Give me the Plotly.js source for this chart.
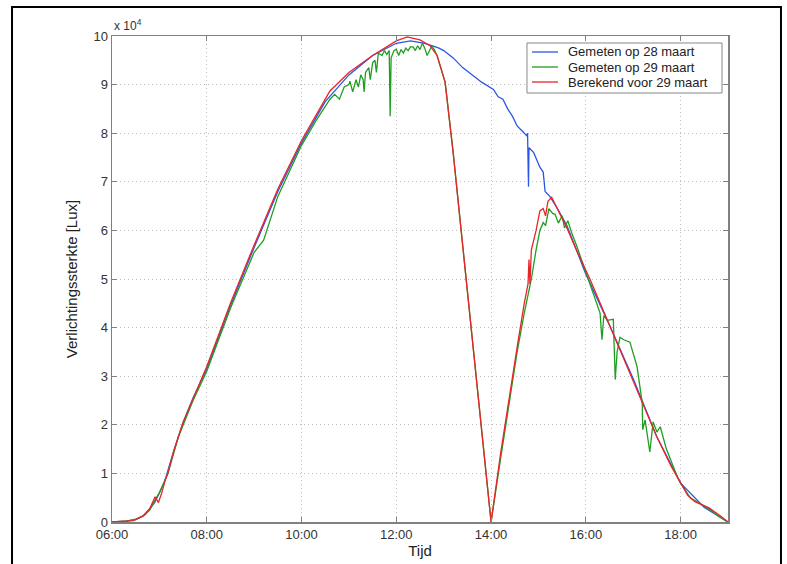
<!DOCTYPE html>
<html>
<head>
<meta charset="utf-8">
<script src="https://cdn.plot.ly/plotly-3.0.1.min.js"></script>
<style>html,body{margin:0;padding:0;background:#fff;}#chart{width:787px;height:564px;}</style>
</head>
<body>
<div id="chart"></div>
<script>
// time in hours, values in 10^4 lux
const tBlue = [6.0,6.3,6.5,6.7,6.9,7.1,7.3,7.5,7.71,8.0,8.5,9.0,9.5,10.0,10.5,11.0,11.5,12.0,12.3,12.6,12.78,12.9,13.0,13.2,13.4,13.6,13.8,14.05,14.15,14.25,14.35,14.45,14.55,14.65,14.75,14.77,14.79,14.8,14.9,15.03,15.1,15.14,15.24,15.4,15.6,16.0,16.5,17.0,17.5,18.0,18.5,19.0];
const vBlue = [0,0.02,0.05,0.15,0.4,0.8,1.45,2.05,2.55,3.15,4.45,5.65,6.8,7.8,8.65,9.2,9.6,9.85,9.9,9.85,9.79,9.75,9.7,9.55,9.35,9.2,9.05,8.9,8.75,8.7,8.5,8.35,8.15,8.05,7.95,8.0,6.9,7.7,7.6,7.3,7.2,6.8,6.7,6.45,6.1,5.1,4.05,2.95,1.75,0.8,0.3,0];

const tGreen = [6.0,6.3,6.5,6.65,6.8,6.87,7.0,7.18,7.4,7.71,8.0,8.5,9.0,9.2,9.5,10.0,10.3,10.6,10.7,10.8,10.9,11.0,11.02,11.08,11.15,11.2,11.25,11.3,11.32,11.35,11.42,11.45,11.5,11.55,11.58,11.62,11.7,11.75,11.8,11.85,11.87,11.89,11.95,12.0,12.05,12.1,12.15,12.2,12.25,12.3,12.36,12.4,12.45,12.5,12.55,12.6,12.65,12.7,12.75,12.8,12.86,13.03,13.2,13.4,13.6,13.8,14.0,14.2,14.4,14.55,14.7,14.85,14.95,15.03,15.1,15.15,15.22,15.3,15.35,15.42,15.5,15.55,15.62,15.7,15.8,16.0,16.2,16.3,16.34,16.38,16.45,16.58,16.62,16.66,16.72,16.8,16.93,17.08,17.19,17.2,17.25,17.35,17.42,17.5,17.57,17.7,17.93,18.0,18.2,18.4,18.6,18.8,19.0];
const vGreen = [0,0.02,0.06,0.12,0.25,0.39,0.6,1.0,1.75,2.5,3.1,4.4,5.55,5.8,6.7,7.75,8.25,8.7,8.8,8.7,8.95,9.0,9.07,8.85,9.1,8.95,9.2,9.1,8.85,9.25,9.35,9.1,9.45,9.5,9.25,9.65,9.6,9.7,9.62,9.7,8.35,9.55,9.7,9.73,9.6,9.72,9.65,9.75,9.7,9.78,9.77,9.7,9.8,9.72,9.85,9.75,9.6,9.7,9.8,9.72,9.6,9.05,7.6,5.7,3.8,1.9,0,1.3,2.6,3.5,4.3,5.0,5.6,6.0,6.16,6.1,6.45,6.35,6.33,6.15,6.3,6.05,6.2,5.95,5.7,5.15,4.6,4.3,3.75,4.25,4.15,4.17,2.93,3.5,3.8,3.75,3.7,3.2,2.45,1.9,2.1,1.44,2.06,1.85,1.96,1.5,0.93,0.8,0.5,0.38,0.27,0.12,0];

const tRed = [6.0,6.25,6.45,6.65,6.8,6.91,6.98,7.05,7.12,7.18,7.3,7.5,7.71,8.0,8.5,9.0,9.5,10.0,10.5,10.6,11.0,11.3,11.5,12.0,12.23,12.5,12.71,12.86,13.03,13.2,13.4,13.6,13.8,14.0,14.2,14.4,14.55,14.7,14.78,14.8,14.82,14.85,14.95,15.03,15.1,15.15,15.2,15.28,15.4,15.6,15.8,16.09,16.5,17.0,17.19,17.5,17.8,18.0,18.15,18.3,18.6,18.85,19.0];
const vRed = [0,0.01,0.03,0.12,0.28,0.52,0.4,0.6,0.85,1.0,1.45,2.05,2.55,3.2,4.5,5.7,6.85,7.85,8.7,8.87,9.25,9.46,9.6,9.9,9.98,9.92,9.8,9.6,9.05,7.6,5.7,3.8,1.9,0,1.4,2.7,3.6,4.5,4.9,5.4,4.9,5.6,6.0,6.4,6.45,6.3,6.6,6.68,6.45,6.05,5.6,4.99,4.05,2.9,2.45,1.75,1.15,0.8,0.55,0.42,0.29,0.12,0];

const names = ["Gemeten op 28 maart","Gemeten op 29 maart","Berekend voor 29 maart"];
const colors = ["#2a56e8","#1f9e1f","#e8242a"];
const tickVals = [6,8,10,12,14,16,18];
const tickText = ["06:00","08:00","10:00","12:00","14:00","16:00","18:00"];
const yTicks = [0,1,2,3,4,5,6,7,8,9,10];

const traces = [
  {x:tBlue, y:vBlue, name:names[0], type:"scatter", mode:"lines", line:{color:colors[0], width:1.3}},
  {x:tGreen, y:vGreen, name:names[1], type:"scatter", mode:"lines", line:{color:colors[1], width:1.3}},
  {x:tRed, y:vRed, name:names[2], type:"scatter", mode:"lines", line:{color:colors[2], width:1.3}}
];

// page frame (paper coords)
const x0=-0.1623, x1=1.0860, yt=1.0597, yb=-0.12;
// legend box geometry (paper coords)
const lgX0=0.6737, lgX1=0.9903, lgY0=0.8827, lgY1=0.9856;
const lgLineX0=0.6818, lgLineX1=0.7240, lgTextX=0.7370;
const lgRows=[0.9671,0.9362,0.9053];

const shapes = [
  {type:"path", xref:"paper", yref:"paper", path:`M ${x0} ${yb} L ${x0} ${yt} L ${x1} ${yt} L ${x1} ${yb}`, line:{color:"#000", width:2}},
  {type:"rect", xref:"paper", yref:"paper", x0:lgX0, x1:lgX1, y0:lgY0, y1:lgY1, line:{color:"#888", width:1}, fillcolor:"#fff", layer:"above"}
];
const annotations = [
  {xref:"paper", yref:"paper", x:0, y:1, xanchor:"left", yanchor:"bottom", yshift:1, showarrow:false,
   text:"x 10<sup>4</sup>", font:{size:12, color:"#333"}}
];
names.forEach((n,i)=>{
  shapes.push({type:"line", xref:"paper", yref:"paper", x0:lgLineX0, x1:lgLineX1, y0:lgRows[i], y1:lgRows[i], line:{color:colors[i], width:1.3}, layer:"above"});
  annotations.push({xref:"paper", yref:"paper", x:lgTextX, y:lgRows[i], xanchor:"left", yanchor:"middle", showarrow:false,
    text:n, font:{size:13, color:"#222"}});
});

const layout = {
  width:787, height:564,
  margin:{l:112, r:59, t:36, b:42},
  paper_bgcolor:"#fff", plot_bgcolor:"#fff",
  font:{family:"Liberation Sans, Arial, sans-serif", size:13, color:"#333"},
  showlegend:false,
  xaxis:{range:[6,19], tickvals:tickVals, ticktext:tickText, showgrid:true, gridcolor:"#bdbdbd", griddash:"1px,3px", gridwidth:1,
         zeroline:false, showline:true, linecolor:"#808080", linewidth:1.5, mirror:"ticks", ticks:"inside", ticklen:5, tickcolor:"#808080",
         tickfont:{size:13, color:"#333"}, title:{text:"Tijd", font:{size:15, color:"#222"}, standoff:2}},
  yaxis:{range:[0,10], tickvals:yTicks, showgrid:true, gridcolor:"#bdbdbd", griddash:"1px,3px", gridwidth:1,
         zeroline:false, showline:true, linecolor:"#808080", linewidth:1.5, mirror:"ticks", ticks:"inside", ticklen:5, tickcolor:"#808080",
         tickfont:{size:13, color:"#333"}, title:{text:"Verlichtingssterkte [Lux]", font:{size:15, color:"#222"}, standoff:12}},
  annotations:annotations,
  shapes:shapes
};
Plotly.newPlot("chart", traces, layout, {displayModeBar:false, staticPlot:true});
</script>
</body>
</html>
